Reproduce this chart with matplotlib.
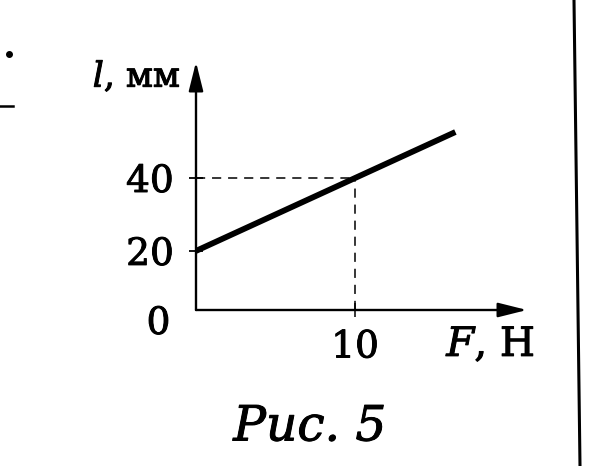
import matplotlib
matplotlib.use('Agg')
import matplotlib.pyplot as plt
import matplotlib.patheffects as pe
from matplotlib.lines import Line2D

plt.rcParams['font.family'] = ['DejaVu Serif']
plt.rcParams['mathtext.fontset'] = 'dejavuserif'

# graph data: force F (N) vs length l (mm)
force = [0, 10, 16.3]
length = [20, 40, 52.6]
y_ticks = [20, 40]
x_ticks = [10]
guide_point = (10, 40)

x_min, x_max = 0, 20.8
y_min, y_max = 3.8, 71.8

# slightly heavier print look
heavy = [pe.withStroke(linewidth=0.7, foreground='black')]

fig = plt.figure(figsize=(6.16, 4.66), dpi=100)
ax = fig.add_axes([196 / 616, 156 / 466, 331 / 616, 248 / 466])
ax.set_xlim(x_min, x_max)
ax.set_ylim(y_min, y_max)

for s in ax.spines.values():
    s.set_visible(False)

# axes with arrows
arrow = dict(arrowstyle='-|>,head_length=0.8,head_width=0.2', color='black',
             lw=1.7, mutation_scale=22, shrinkA=0, shrinkB=0)
ax.annotate('', xy=(0, 1), xytext=(0, 0), xycoords='axes fraction',
            textcoords='axes fraction', arrowprops=arrow)
ax.annotate('', xy=(1, 0), xytext=(0, 0), xycoords='axes fraction',
            textcoords='axes fraction', arrowprops=arrow)

# dashed guides
gx, gy = guide_point
ax.plot([x_min, gx], [gy, gy], color='black', lw=1.1, dashes=(6, 4.5))
ax.plot([gx, gx], [y_min, gy], color='black', lw=1.1, dashes=(6, 4.5))

# main line
ax.plot(force, length, color='black', lw=4.2, solid_capstyle='butt')

ax.set_yticks(y_ticks)
ax.set_yticklabels([str(v) for v in y_ticks])
ax.set_xticks(x_ticks)
ax.set_xticklabels([str(v) for v in x_ticks])
ax.tick_params(axis='y', direction='inout', length=10, width=1.3, pad=11,
               labelsize=27)
ax.tick_params(axis='x', direction='inout', length=10, width=1.1, pad=9,
               labelsize=27)
for lab in ax.get_xticklabels() + ax.get_yticklabels():
    lab.set_path_effects(heavy)

# origin and axis labels
ax.annotate('0', xy=(0, 0), xycoords='axes fraction', xytext=(-27, -10),
            textcoords='offset points', ha='center', va='center', fontsize=27,
            path_effects=heavy)
ax.annotate(r'$l$, мм', xy=(0, 1), xycoords='axes fraction', xytext=(-11, -10),
            textcoords='offset points', ha='right', va='center', fontsize=25,
            path_effects=heavy)
ax.annotate(r'$F$, Н', xy=(1, 0), xycoords='axes fraction', xytext=(6, -25),
            textcoords='offset points', ha='right', va='center', fontsize=29,
            path_effects=heavy)

fig.text(310 / 616, 1 - 427 / 466, 'Рис. 5', ha='center', va='center',
         fontsize=35, style='italic', path_effects=heavy)

# page border on the right and scan marks on the left
fig.add_artist(Line2D([574 / 616, 580 / 616], [1, 0], color='black', lw=2.2))
fig.add_artist(Line2D([9 / 616], [1 - 54 / 466], marker='o', markersize=4,
                      color='black'))
fig.add_artist(Line2D([0, 13 / 616], [1 - 106 / 466, 1 - 106 / 466],
                      color='black', lw=1.8))

fig.savefig('out.png', dpi=100, facecolor='white')
